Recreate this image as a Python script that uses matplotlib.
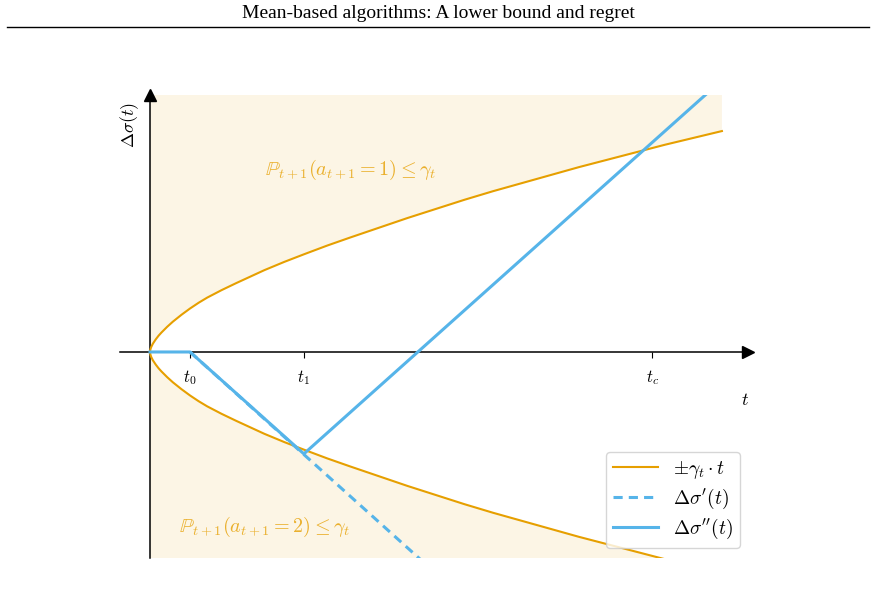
import matplotlib
matplotlib.use('Agg')
import numpy as np
import matplotlib.pyplot as plt
from matplotlib.lines import Line2D

plt.rcParams['mathtext.fontset'] = 'cm'

# curve +-gamma_t * t
t_gamma = [0, 0.005, 0.01, 0.02, 0.05, 0.1, 0.15, 0.2, 0.3, 0.4, 0.55, 0.7, 0.85, 1.0,
           1.25, 1.5, 1.75, 2.0, 2.35, 2.7, 3.1, 3.5, 4.0, 4.5, 5.0, 5.5, 6.0, 6.5,
           7.0, 7.5, 8.0, 8.5, 9.0, 10.0]
gamma = np.array([0, 0.035, 0.055, 0.085, 0.145, 0.22, 0.285, 0.34, 0.44, 0.53, 0.65,
                  0.76, 0.86, 0.95, 1.08, 1.20, 1.315, 1.43, 1.575, 1.71, 1.86, 2.00,
                  2.17, 2.34, 2.50, 2.66, 2.81, 2.95, 3.09, 3.23, 3.36, 3.49, 3.62, 3.86])

t0, t1, tc = 0.70, 2.69, 8.78
tick_pos = [t0, t1, tc]
tick_lab = ['$t_0$', '$t_1$', '$t_c$']

# delta sigma'' (solid) and delta sigma' (dashed)
t_sig2 = [0, t0, t1, 10.0]
sig2 = [0, 0, -1.78, 4.75]
t_sig1 = [t0, 4.9]
sig1 = [0, -3.78]

orange = '#E69F00'
blue = '#56B4E9'

fig = plt.figure(figsize=(8.76, 5.89), dpi=100)
ax = fig.add_axes([0.1373, 0.0526, 0.7162, 0.7861])
ax.set_xlim(-0.52, 10.45)
ax.set_ylim(-3.6, 4.49)

# shaded regions
ax.fill_between(t_gamma, gamma, 20, color=orange, alpha=0.1, lw=0)
ax.fill_between(t_gamma, -gamma, -20, color=orange, alpha=0.1, lw=0)

ax.plot(t_gamma, gamma, color=orange, lw=1.5, zorder=3, label=r'$\pm\gamma_t \cdot t$')
ax.plot(t_gamma, -gamma, color=orange, lw=1.5, zorder=3)
ax.plot(t_sig1, sig1, color=blue, lw=2.2, ls=(0, (3, 2)), zorder=3, label=r"$\Delta\sigma'(t)$")
ax.plot(t_sig2, sig2, color=blue, lw=2.2, zorder=3, label=r"$\Delta\sigma''(t)$")

# axes through the origin with arrows
for s in ['top', 'right']:
    ax.spines[s].set_visible(False)
ax.spines['left'].set_position(('data', 0))
ax.spines['bottom'].set_position(('data', 0))
ax.spines['left'].set_linewidth(1.1)
ax.spines['bottom'].set_linewidth(1.1)
ax.plot(1, 0, '>k', ms=9, transform=ax.get_yaxis_transform(), clip_on=False)
ax.plot(0, 1, '^k', ms=9, transform=ax.get_xaxis_transform(), clip_on=False)

ax.set_xticks(tick_pos, tick_lab)
ax.set_yticks([])
ax.tick_params(axis='x', direction='out', length=4, width=0.8, pad=8, labelsize=12)

ax.text(-0.35, 3.97, r'$\Delta\sigma(t)$', rotation=90, ha='center', va='center', fontsize=13)
ax.text(10.4, -0.84, r'$t$', ha='center', va='center', fontsize=13)

ax.text(3.5, 3.18, r'$\mathbb{P}_{t+1}(a_{t+1} = 1) \leq \gamma_t$', color=orange, alpha=0.8,
        ha='center', va='center', fontsize=14.5)
ax.text(2.0, -3.06, r'$\mathbb{P}_{t+1}(a_{t+1} = 2) \leq \gamma_t$', color=orange, alpha=0.8,
        ha='center', va='center', fontsize=14.5)

ax.legend(loc='lower right', bbox_to_anchor=(0.988, 0.022), borderaxespad=0,
          fontsize=14, handlelength=2.3, labelspacing=0.3, borderpad=0.35)

# page header
fig.text(0.5, 1 - 14 / 589, 'Mean-based algorithms: A lower bound and regret',
         family='Liberation Serif', fontsize=14, ha='center', va='center')
fig.add_artist(Line2D([7 / 876, 869 / 876], [1 - 27 / 589] * 2,
                      transform=fig.transFigure, color='k', lw=1))

fig.savefig('out.png', dpi=100)
